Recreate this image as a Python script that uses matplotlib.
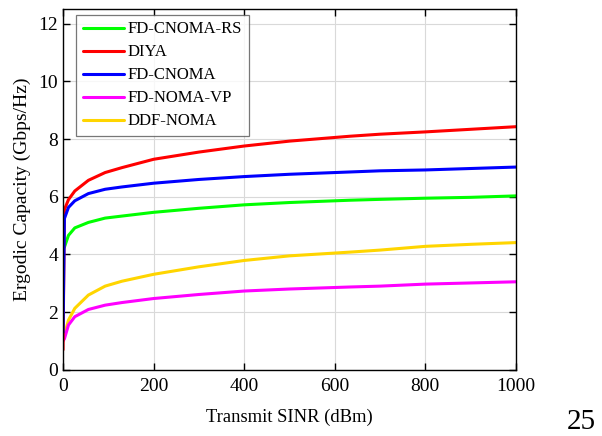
import numpy as np
import matplotlib
matplotlib.use("Agg")
import matplotlib.pyplot as plt

plt.rcParams['font.family'] = ['Liberation Serif', 'DejaVu Serif']

# Transmit SINR sample points
sinr = [0, 3, 12, 26, 56, 93, 130, 200, 300, 400, 500, 634, 700, 800, 900, 1000]

diya = [0.69, 5.55, 5.9, 6.2, 6.57, 6.84, 7.01, 7.3, 7.55, 7.76, 7.93, 8.1, 8.17, 8.25, 8.34, 8.43]
fd_cnoma = [1.29, 5.24, 5.63, 5.86, 6.11, 6.26, 6.34, 6.47, 6.6, 6.7, 6.78, 6.86, 6.9, 6.93, 6.98, 7.03]
fd_cnoma_rs = [np.nan, 4.25, 4.66, 4.92, 5.11, 5.26, 5.33, 5.46, 5.6, 5.72, 5.8, 5.88, 5.91, 5.95, 5.98, 6.03]
fd_noma_vp = [1.0, 1.07, 1.55, 1.84, 2.09, 2.24, 2.33, 2.47, 2.61, 2.73, 2.8, 2.87, 2.9, 2.97, 3.01, 3.05]
ddf_noma = [1.15, 1.2, 1.72, 2.13, 2.59, 2.9, 3.07, 3.31, 3.57, 3.79, 3.95, 4.08, 4.15, 4.28, 4.35, 4.41]

series = [
    ("FD-CNOMA-RS", fd_cnoma_rs, "#00ff00"),
    ("DIYA", diya, "#ff0000"),
    ("FD-CNOMA", fd_cnoma, "#0000ff"),
    ("FD-NOMA-VP", fd_noma_vp, "#ff00ff"),
    ("DDF-NOMA", ddf_noma, "#ffd500"),
]

xticks = [0, 200, 400, 600, 800, 1000]
yticks = [0, 2, 4, 6, 8, 10, 12]

fig = plt.figure(figsize=(6.02, 4.36), dpi=100)
ax = fig.add_axes([0.1047, 0.152, 0.7523, 0.8265])

# draw in back-to-front order so the upper curves sit on top
draw_order = [4, 3, 0, 1, 2]
handles = {}
for i in draw_order:
    name, vals, col = series[i]
    h, = ax.plot(sinr, vals, color=col, lw=2.2, label=name, solid_capstyle='round')
    handles[i] = h

ax.set_xlim(0, 1000)
ax.set_ylim(0, 12.5)
ax.set_xticks(xticks)
ax.set_yticks(yticks)
ax.grid(True, color='#d9d9d9', lw=0.8)
ax.set_axisbelow(True)
ax.tick_params(direction='in', top=True, right=True, labelsize=14, length=5, width=1)
ax.tick_params(axis='x', pad=6)
for sp in ax.spines.values():
    sp.set_linewidth(1.0)

ax.set_xlabel("Transmit SINR (dBm)", fontsize=13.4, labelpad=10)
ax.set_ylabel("Ergodic Capacity (Gbps/Hz)", fontsize=14, labelpad=5)

leg = ax.legend([handles[i] for i in range(5)], [s[0] for s in series],
                loc='upper left', fontsize=12, frameon=True, fancybox=False,
                edgecolor='#555555', handlelength=2.45, handletextpad=0.25,
                labelspacing=0.42, borderpad=0.4, borderaxespad=0,
                bbox_to_anchor=(0.029, 0.985))
leg.get_frame().set_linewidth(0.9)

fig.text(0.99, 0.016, "25", fontsize=21, ha='right', va='baseline')

fig.savefig("out.png", dpi=100)
